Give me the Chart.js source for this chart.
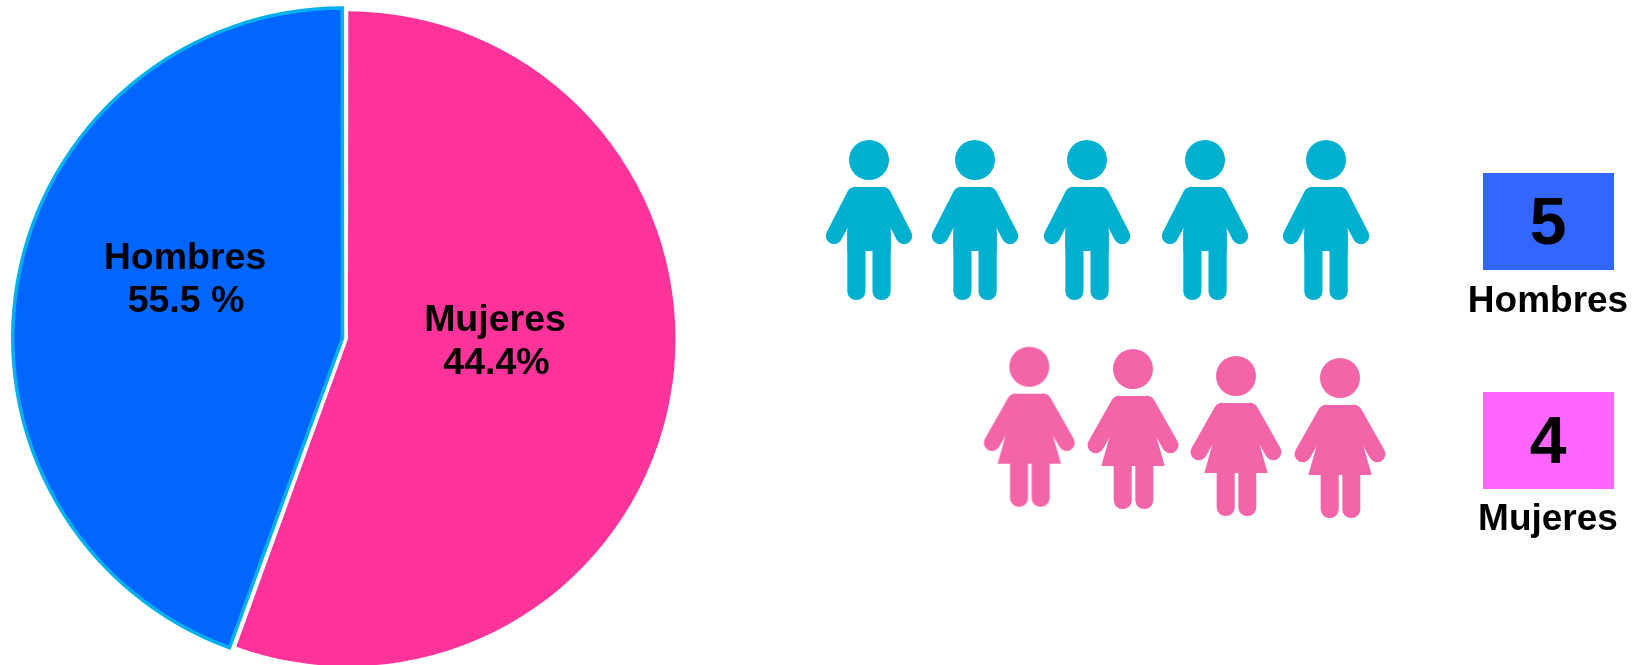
<!DOCTYPE html>
<html lang="es">
<head>
<meta charset="utf-8">
<title>Hombres y Mujeres</title>
<script src="https://cdn.jsdelivr.net/npm/chart.js@4"></script>
<style>
html,body{margin:0;padding:0;background:#fff;width:1633px;height:665px;overflow:hidden;font-family:"Liberation Sans",Arial,sans-serif;}
canvas{position:absolute;left:0;top:0;display:block;}
.t{position:absolute;font-weight:bold;color:#000;white-space:nowrap;transform:translateX(-50%);text-align:center;line-height:1;}
.box{position:absolute;}
</style>
</head>
<body>
<canvas id="pie" width="692" height="677" style="width:692px;height:677px"></canvas>
<canvas id="people" width="1633" height="665" style="width:1633px;height:665px"></canvas>
<script>
// ---- data ----
const sliceNames = ['Mujeres', 'Hombres'];
const sliceValues = [55.5, 44.4];
const sliceTexts = ['44.4%', '55.5 %'];
const countNames = ['Hombres', 'Mujeres'];
const countValues = [5, 4];
const menX = [869, 975, 1087, 1205, 1326];
const menY = [220, 220, 220, 220, 220];
const womenX = [1029.3, 1133, 1236, 1340];
const womenY = [426.7, 429, 436, 438];

// ---- styles ----
const pink = '#FF3399', blue = '#0066FF', cyan = '#00B0F0';
const manColor = '#00B0D0', womanColor = '#F464A8';
const boxColors = ['#3366FF', '#FF66FF'];

// ---- icons used as point styles ----
function makeIcon(color, woman) {
  const c = document.createElement('canvas');
  c.width = 100; c.height = 170;
  const g = c.getContext('2d');
  g.translate(50, 5);
  g.fillStyle = color; g.strokeStyle = color;
  g.beginPath(); g.arc(0, 20, 20, 0, Math.PI * 2); g.fill();
  g.lineWidth = 16.5; g.lineCap = 'round';
  const hx = woman ? 37.2 : 35, hy = woman ? 96 : 96;
  [-1, 1].forEach(s => {
    g.beginPath(); g.moveTo(s * 14, 55); g.lineTo(s * hx, hy); g.stroke();
  });
  g.beginPath();
  if (woman) {
    [[-14,47],[14,47],[24,90],[31.7,117],[-31.7,117],[-24,90]].forEach((p,i)=> i?g.lineTo(p[0],p[1]):g.moveTo(p[0],p[1]));
  } else {
    [[-15,47],[15,47],[21.7,60],[21.7,111],[-21.7,111],[-21.7,60]].forEach((p,i)=> i?g.lineTo(p[0],p[1]):g.moveTo(p[0],p[1]));
  }
  g.closePath(); g.fill();
  const legs = woman ? [[-19.3,18],[2.3,18]] : [[-21.7,18.2],[3.5,18.2]];
  legs.forEach(l => {
    g.beginPath(); g.roundRect(l[0], 85, l[1], 75, 8.8); g.fill();
  });
  return c;
}

// ---- pie ----
const bluePieRadius = 327.5;
new Chart(document.getElementById('pie'), {
  type: 'pie',
  data: {
    labels: sliceNames,
    datasets: [{
      data: sliceValues,
      backgroundColor: [pink, blue],
      borderColor: ['rgba(0,0,0,0)', cyan],
      borderWidth: [0, 3.5],
      offset: [8, 14],
      borderJoinStyle: 'miter'
    }]
  },
  options: {
    responsive: false,
    animation: false,
    radius: 325.5,
    events: [],
    layout: { padding: 0 },
    plugins: { legend: { display: false }, tooltip: { enabled: false } }
  },
  plugins: [{
    id: 'largerBlue',
    afterDatasetsUpdate(chart) {
      chart.getDatasetMeta(0).data[1].outerRadius = bluePieRadius;
    }
  }]
});

// ---- pictogram ----
const toPts = (xs, ys) => xs.map((x, i) => ({ x, y: ys[i] }));
new Chart(document.getElementById('people'), {
  type: 'scatter',
  data: {
    datasets: [
      { label: 'Hombres', data: toPts(menX, menY), pointStyle: makeIcon(manColor, false), pointRadius: 50 },
      { label: 'Mujeres', data: toPts(womenX, womenY), pointStyle: makeIcon(womanColor, true), pointRadius: 50 }
    ]
  },
  options: {
    responsive: false,
    animation: false,
    events: [],
    layout: { padding: 0, autoPadding: false },
    scales: {
      x: { type: 'linear', display: false, min: 0, max: 1633 },
      y: { type: 'linear', display: false, min: 0, max: 665, reverse: true }
    },
    plugins: { legend: { display: false }, tooltip: { enabled: false } }
  }
});

// ---- texts and count boxes ----
function addText(str, cx, top, size) {
  const d = document.createElement('div');
  d.className = 't'; d.textContent = str;
  d.style.left = cx + 'px'; d.style.top = top + 'px'; d.style.fontSize = size + 'px';
  document.body.appendChild(d);
}
function addBox(color, top) {
  const d = document.createElement('div');
  d.className = 'box';
  d.style.cssText = 'left:1483px;width:131px;height:97px;top:' + top + 'px;background:' + color;
  document.body.appendChild(d);
}
addBox(boxColors[0], 173);
addBox(boxColors[1], 392);
addText(sliceNames[1], 185, 238, 37.5);
addText(sliceTexts[1], 186, 281, 37.5);
addText(sliceNames[0], 495, 300, 37.5);
addText(sliceTexts[0], 496.5, 343, 37.5);
addText(String(countValues[0]), 1548, 188, 66);
addText(String(countValues[1]), 1548, 407, 66);
addText(countNames[0], 1548, 281, 37);
addText(countNames[1], 1548, 499, 37);
</script>
</body>
</html>
